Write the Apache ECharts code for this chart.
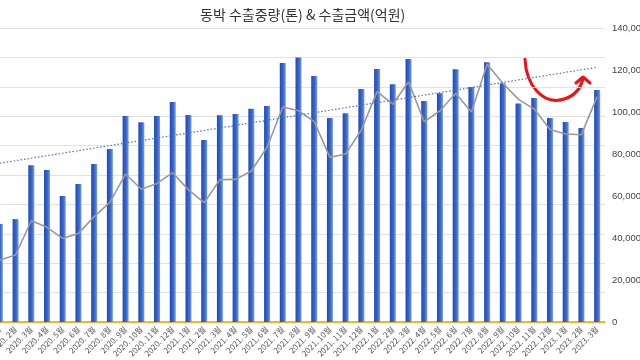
<!DOCTYPE html>
<html>
<head>
<meta charset="utf-8">
<script src="https://cdn.jsdelivr.net/npm/echarts@6/dist/echarts.min.js"></script>
<style>html,body{margin:0;padding:0;background:#fff}#c{width:640px;height:360px}</style>
</head>
<body>
<div id="c"></div>
<script>
const titleText = '동박 수출중량(톤) & 수출금액(억원)';
const months = [
 '2020. 1월','2020. 2월','2020. 3월','2020. 4월','2020. 5월','2020. 6월','2020. 7월','2020. 8월','2020. 9월','2020. 10월','2020. 11월','2020. 12월',
 '2021. 1월','2021. 2월','2021. 3월','2021. 4월','2021. 5월','2021. 6월','2021. 7월','2021. 8월','2021. 9월','2021. 10월','2021. 11월','2021. 12월',
 '2022. 1월','2022. 2월','2022. 3월','2022. 4월','2022. 5월','2022. 6월','2022. 7월','2022. 8월','2022. 9월','2022. 10월','2022. 11월','2022. 12월',
 '2023. 1월','2023. 2월','2023. 3월'];
// values in millions (right axis units)
const weight = [46.7,49.0,74.6,72.4,60.0,65.7,75.2,82.4,98.1,95.1,98.1,104.8,
 98.6,86.7,98.5,99.0,101.6,102.9,123.3,125.9,117.1,97.1,99.4,111.0,
 120.5,113.2,125.2,105.2,108.9,120.3,111.9,123.7,113.7,104.0,106.7,97.1,
 95.2,92.4,110.5];
const amount = [29.5,31.9,48.2,45.1,39.8,42.2,50.2,57.0,70.5,63.2,66.0,71.1,
 62.9,56.8,67.8,67.9,71.9,83.2,102.4,100.6,95.4,78.4,80.0,91.4,
 109.7,103.7,114.4,95.3,100.6,108.9,100.0,122.7,113.7,106.0,101.4,91.7,
 89.5,89.2,107.3];
const trendEnds = [75.6, 121.3];
const rightTicks = [0,20,40,60,80,100,120,140];

const M = 1e6;
const fmt = v => String(Math.round(v)).replace(/\B(?=(\d{3})+(?!\d))/g, ',');
const chart = echarts.init(document.getElementById('c'), null, {renderer:'canvas'});
const red = {fill:null,stroke:'#ee1111',lineWidth:3,lineCap:'round',lineJoin:'round'};
chart.setOption({
  animation:false,
  title:{text:titleText,left:195,top:3,textStyle:{fontFamily:'Noto Sans CJK KR',fontSize:14,fontWeight:'normal',color:'#333'}},
  grid:{left:-8,right:35,top:28,bottom:38,containLabel:false,outerBoundsMode:'none'},
  xAxis:{type:'category',data:months,
    axisLine:{lineStyle:{color:'#f5a000',width:1.5}},axisTick:{show:false},
    axisLabel:{interval:0,rotate:45,fontSize:8,color:'#555',margin:6,fontFamily:'Noto Sans CJK KR'}},
  yAxis:[
    {type:'value',min:0,max:10,interval:1,axisLabel:{show:false},axisLine:{show:false},axisTick:{show:false},
     splitLine:{lineStyle:{color:'#e2e2e2',width:1}}},
    {type:'value',position:'right',min:rightTicks[0]*M,max:rightTicks[rightTicks.length-1]*M,interval:(rightTicks[1]-rightTicks[0])*M,
     splitLine:{show:false},axisLine:{show:false},axisTick:{show:false},
     axisLabel:{formatter:v=>fmt(v),color:'#444',fontSize:9.5,margin:7,fontFamily:'Liberation Sans'}}
  ],
  series:[
    {name:'수출중량',type:'bar',yAxisIndex:1,data:weight.map(v=>v*M),barWidth:6,
     itemStyle:{color:{type:'linear',x:0,y:0,x2:1,y2:0,colorStops:[{offset:0,color:'#1c4cb6'},{offset:0.6,color:'#3b68cc'},{offset:1,color:'#7c9ee0'}]}}},
    {name:'수출금액',type:'line',yAxisIndex:1,data:amount.map(v=>v*M),symbol:'none',
     lineStyle:{color:'#9a9a9a',width:1.6}},
    {name:'추세선',type:'line',yAxisIndex:1,data:[[0,trendEnds[0]*M],[months.length-1,trendEnds[1]*M]],symbol:'none',
     lineStyle:{color:'#4a72cc',width:1.2,type:[1.5,2]}}
  ],
  graphic:[
    {type:'bezierCurve',shape:{x1:525,y1:59,cpx1:526,cpy1:86,cpx2:543,cpy2:103,x2:560,y2:100},style:red},
    {type:'bezierCurve',shape:{x1:560,y1:100,cpx1:572,cpy1:98,cpx2:580,cpy2:90,x2:583,y2:79},style:red},
    {type:'polyline',shape:{points:[[576,83],[583,77],[590,83]]},style:red}
  ]
});
</script>
</body>
</html>
